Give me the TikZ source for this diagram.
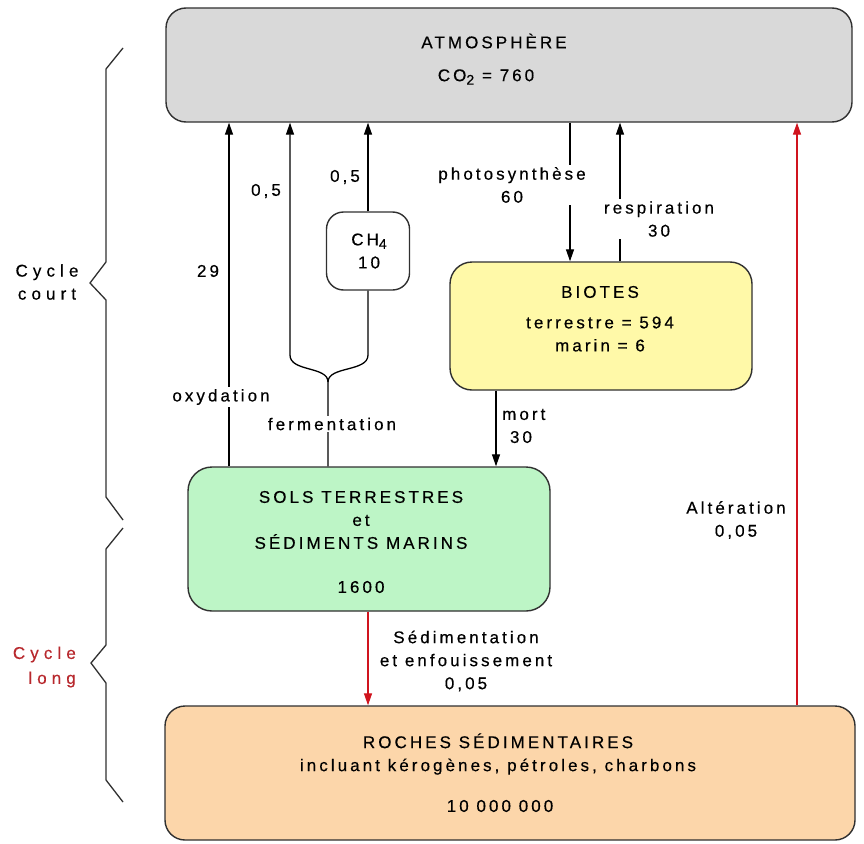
\documentclass[tikz,border=0pt]{standalone}
\usepackage{fontspec}
\setmainfont{Liberation Sans}[LetterSpace=18,FakeBold=0.4]
\usetikzlibrary{arrows.meta}
\definecolor{atmgray}{HTML}{D9D9D9}
\definecolor{bioyel}{HTML}{FFF9A8}
\definecolor{solgreen}{HTML}{BDF5C6}
\definecolor{rocpeach}{HTML}{FCD6AA}
\definecolor{fluxred}{HTML}{D0141E}
\definecolor{longred}{HTML}{B8282D}
\definecolor{edge}{HTML}{303030}
\newcommand{\lowsub}[1]{\raisebox{-3.5pt}{\fontsize{14}{14}\selectfont #1}}
\begin{document}
\begin{tikzpicture}[x=1pt,y=-1pt,
  box/.style={draw=edge,line width=1.4pt,rounded corners=20pt,inner sep=0pt},
  txt/.style={font=\fontsize{17}{23}\selectfont,align=center,inner sep=1pt},
  lbl/.style={txt,fill=white,inner sep=2pt},
  wire/.style={line width=1.3pt,draw=black},
  flow/.style={wire,-{Triangle[length=12pt,width=8pt]}},
  redflow/.style={flow,draw=fluxred,fill=fluxred},
  brace/.style={line width=1.3pt,draw=edge}
]
\useasboundingbox (0,0) rectangle (864,843);
\fill[white] (0,0) rectangle (864,843);

% boxes
\node[box,fill=atmgray,minimum width=686pt,minimum height=114pt] (atm) at (509,65) {};
\node[box,fill=bioyel,minimum width=302pt,minimum height=128pt,rounded corners=22pt] (bio) at (601,326) {};
\node[box,fill=solgreen,minimum width=362pt,minimum height=144pt,rounded corners=24pt] (sols) at (369,539) {};
\node[box,fill=rocpeach,minimum width=690pt,minimum height=134pt] (roc) at (510,773) {};
\node[box,fill=white,minimum width=83pt,minimum height=78pt,rounded corners=17pt] (ch4) at (368,251) {};

% box texts
\node[txt] (atmt) at (494,41) {ATMOSPHÈRE};
\node[txt] (atmv) at (486,77) {CO\lowsub{2} = 760};
\node[txt] (biot) at (600,292) {BIOTES};
\node[txt] (biov) at (600,334) {terrestre = 594\\marin = 6};
\node[txt] (solt) at (361,520) {SOLS TERRESTRES\\et\\SÉDIMENTS MARINS};
\node[txt] (solv) at (361,587) {1600};
\node[txt] (roct) at (498,754) {ROCHES SÉDIMENTAIRES\\incluant kérogènes, pétroles, charbons};
\node[txt] (rocv) at (500,806) {10 000 000};
\node[txt] (ch4t) at (369,251) {CH\lowsub{4}\\10};

% x positions of connectors
\coordinate (xox) at (229,0);
\coordinate (xfa) at (290,0);
\coordinate (xch) at (368,0);
\coordinate (xfe) at (328,0);
\coordinate (xph) at (570,0);
\coordinate (xre) at (620,0);
\coordinate (xmo) at (496,0);
\coordinate (xsed) at (368,0);
\coordinate (xalt) at (797,0);
\coordinate (forkc) at (328,382);
\coordinate (forkl) at (290,355);
\coordinate (forkr) at (368,355);

% connectors
\draw[flow] (sols.north -| xox) -- (atm.south -| xox);
\draw[flow] (sols.north -| xfe) -- (forkc) .. controls (328,366) and (290,372) .. (forkl) -- (atm.south -| xfa);
\draw[wire] (forkc) .. controls (328,366) and (368,372) .. (forkr) -- (ch4.south);
\draw[flow] (ch4.north) -- (atm.south -| xch);
\draw[flow] (atm.south -| xph) -- (bio.north -| xph);
\draw[flow] (bio.north -| xre) -- (atm.south -| xre);
\draw[flow] (bio.south -| xmo) -- (sols.north -| xmo);
\draw[redflow] (sols.south -| xsed) -- (roc.north -| xsed);
\draw[redflow] (roc.north -| xalt) -- (atm.south -| xalt);

% connector labels
\node[txt] (l29) at (208,271) {29};
\node[txt] (l05a) at (266,191) {0,5};
\node[txt] (l05b) at (345,177) {0,5};
\node[lbl] (lox) at (221,397) {oxydation};
\node[lbl] (lfe) at (332,424) {fermentation};
\node[lbl] (lph) at (512,185) {photosynthèse\\60};
\node[lbl] (lre) at (659,219) {respiration\\30};
\node[txt,align=left,anchor=west] (lmo) at (501,426) {mort\\\ 30};
\node[txt] (lsed) at (466,661) {Sédimentation\\et enfouissement\\0,05};
\node[txt] (lalt) at (736,520) {Altération\\0,05};

% braces
\draw[brace] (123,48) -- (106,69) -- (106,262) -- (90,283) -- (106,300) -- (106,497) -- (123,520);
\draw[brace] (123,528) -- (106,549) -- (106,645) -- (91,663) -- (106,683) -- (106,780) -- (123,802);
\node[txt,font=\fontsize{17}{23}\selectfont\addfontfeature{LetterSpace=30}] (cc) at (47,282) {Cycle\\court};
\node[txt,font=\fontsize{17}{25}\selectfont\addfontfeature{LetterSpace=30},align=right,anchor=east,text=longred] (cl) at (77,667) {Cycle\\long};
\end{tikzpicture}
\end{document}
